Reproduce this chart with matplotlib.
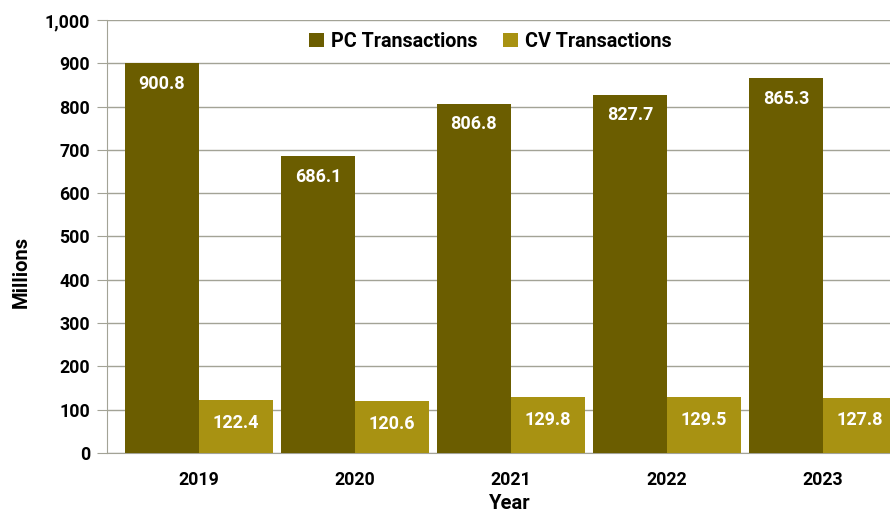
import matplotlib
matplotlib.use("Agg")
import matplotlib.pyplot as plt
import numpy as np
from matplotlib.ticker import FuncFormatter

years = ["2019", "2020", "2021", "2022", "2023"]
pc_values = [900.8, 686.1, 806.8, 827.7, 865.3]
cv_values = [122.4, 120.6, 129.8, 129.5, 127.8]
series_names = ["PC Transactions", "CV Transactions"]

pc_color = "#6B5D00"
cv_color = "#A89212"
grid_color = "#A3A396"

plt.rcParams['font.family'] = ['Roboto', 'DejaVu Sans']

fig = plt.figure(figsize=(8.9, 5.14), dpi=100)
ax = fig.add_axes([0.120, 0.119, 0.880, 0.842])

x = np.arange(len(years))
w = 0.474
b1 = ax.bar(x - w/2, pc_values, w, color=pc_color, label=series_names[0], zorder=3)
b2 = ax.bar(x + w/2, cv_values, w, color=cv_color, label=series_names[1], zorder=3)

for rect, v in zip(b1, pc_values):
    ax.text(rect.get_x() + rect.get_width()/2, v - 48, f"{v:.1f}", ha="center", va="center",
            color="white", fontsize=13, fontweight="bold", zorder=4)
for rect, v in zip(b2, cv_values):
    ax.text(rect.get_x() + rect.get_width()/2, v - 53, f"{v:.1f}", ha="center", va="center",
            color="white", fontsize=13, fontweight="bold", zorder=4)

ax.set_ylim(0, 1000)
ax.set_xlim(-0.59, 4.43)
ax.set_yticks(np.arange(0, 1001, 100))
ax.yaxis.set_major_formatter(FuncFormatter(lambda v, p: f"{int(v):,}"))
ax.set_xticks(x)
ax.set_xticklabels(years)
ax.grid(axis="y", color=grid_color, linewidth=1, zorder=0)
ax.set_axisbelow(True)
for s in ["top", "right"]:
    ax.spines[s].set_visible(False)
ax.spines["left"].set_color(grid_color)
ax.spines["bottom"].set_color(grid_color)
ax.spines["left"].set_zorder(5)
ax.tick_params(axis="y", length=7, color=grid_color, labelsize=12.8, pad=5)
ax.tick_params(axis="x", length=0, labelsize=12.8, pad=13)
for lab in ax.get_xticklabels() + ax.get_yticklabels():
    lab.set_fontweight("bold")

ax.set_ylabel("Millions", fontsize=14.5, fontweight="bold", va="center")
ax.yaxis.set_label_coords(-0.109, 0.418)
ax.set_xlabel("Year", fontsize=14.5, fontweight="bold", va="center")
ax.xaxis.set_label_coords(0.515, -0.116)

leg = ax.legend(loc="center", bbox_to_anchor=(0.49, 0.951), ncol=2, frameon=True,
                fontsize=14.2, handlelength=0.75, handleheight=0.75, columnspacing=1.3,
                handletextpad=0.35, borderpad=0.3)
leg.get_frame().set_facecolor("white")
leg.get_frame().set_edgecolor("white")
leg.get_frame().set_alpha(1)
leg.get_frame().set_boxstyle("square", pad=0.0)
for t in leg.get_texts():
    t.set_fontweight("bold")
leg.set_zorder(6)

fig.savefig("out.png", dpi=100)
